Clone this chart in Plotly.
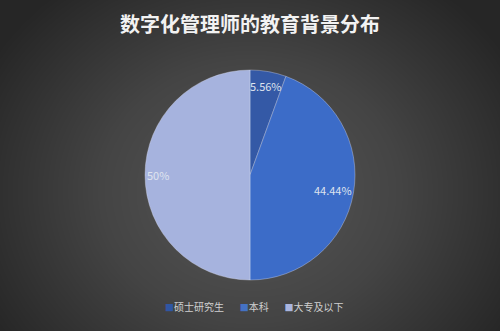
import numpy as np
import plotly.graph_objects as go

# Education background of digital management practitioners (share, %)
categories = ["硕士研究生", "本科", "大专及以下"]
shares = [5.56, 44.44, 50.0]
share_labels = ["5.56%", "44.44%", "50%"]
slice_colors = ["#3459a6", "#3c6cc8", "#a6b3de"]
legend_colors = ["#2f56a3", "#4472c4", "#a9b5df"]

W, H = 500, 331
FONT = "Noto Sans CJK SC"

fig = go.Figure()

# Dark radial backdrop
gx = np.linspace(0, W, 60)
gy = np.linspace(0, H, 40)
X, Y = np.meshgrid(gx, gy)
d = np.sqrt(((X - 250) / 300) ** 2 + ((Y - 140) / 260) ** 2)
fig.add_trace(go.Heatmap(
    x=gx, y=gy, z=d, zsmooth="best", showscale=False, hoverinfo="skip",
    colorscale=[[0, "#575757"], [0.5, "#444444"], [1, "#262626"]],
    zmin=0, zmax=1.0,
))

# Soft shadow under the pie
cx, cy, r = 250, 175, 105
for grow, alpha in [(4, 0.06), (2.5, 0.08), (1.2, 0.12)]:
    fig.add_shape(
        type="circle", xref="x", yref="y",
        x0=cx - r - grow, x1=cx + r + grow,
        y0=H - (cy + r + grow + 1), y1=H - (cy - r - grow + 1),
        fillcolor=f"rgba(0,0,0,{alpha})", line=dict(width=0), layer="below",
    )

fig.add_trace(go.Pie(
    labels=categories,
    values=shares,
    sort=False,
    direction="clockwise",
    rotation=0,
    marker=dict(colors=slice_colors, line=dict(color="rgba(220,225,240,0.45)", width=0.8)),
    textinfo="none",
    hoverinfo="label+percent",
    domain=dict(x=[0, 1], y=[(H - 280) / H, (H - 70) / H]),
    showlegend=False,
))

# Data labels placed along each slice's mid-angle
label_radius = [0.86, 0.8, 0.88]
total = sum(shares)
start = 0.0
for val, txt, fr in zip(shares, share_labels, label_radius):
    mid = (start + val / 2) / total * 2 * np.pi
    start += val
    px = cx + fr * r * np.sin(mid)
    py = cy - fr * r * np.cos(mid)
    fig.add_annotation(
        x=px, y=H - py, xref="x", yref="y", text=txt, showarrow=False,
        font=dict(family=FONT, size=11, color="#dfe3ee"),
    )

# Compact legend row: small swatch followed by its category
gap = "&nbsp;" * 7
legend_html = gap.join(
    f"<span style='color:{c};font-size:9px'>■</span>{name}"
    for name, c in zip(categories, legend_colors)
)
fig.add_annotation(
    x=254 / W, y=1 - 306 / H, xref="paper", yref="paper", text=legend_html,
    showarrow=False, xanchor="center", yanchor="middle",
    font=dict(family=FONT, size=10, color="#d0d0d0"),
)

fig.update_layout(
    width=W, height=H,
    margin=dict(l=0, r=0, t=0, b=0),
    paper_bgcolor="#3a3a3a",
    plot_bgcolor="#3a3a3a",
    showlegend=False,
    xaxis=dict(range=[0, W], visible=False, domain=[0, 1], fixedrange=True),
    yaxis=dict(range=[0, H], visible=False, domain=[0, 1], fixedrange=True),
    title=dict(
        text="<b>数字化管理师的教育背景分布</b>",
        x=0.5, xanchor="center", y=1 - 25 / H, yanchor="middle",
        font=dict(family=FONT, size=20, color="#f2f2f2"),
    ),
)

fig.write_html("out.html")
